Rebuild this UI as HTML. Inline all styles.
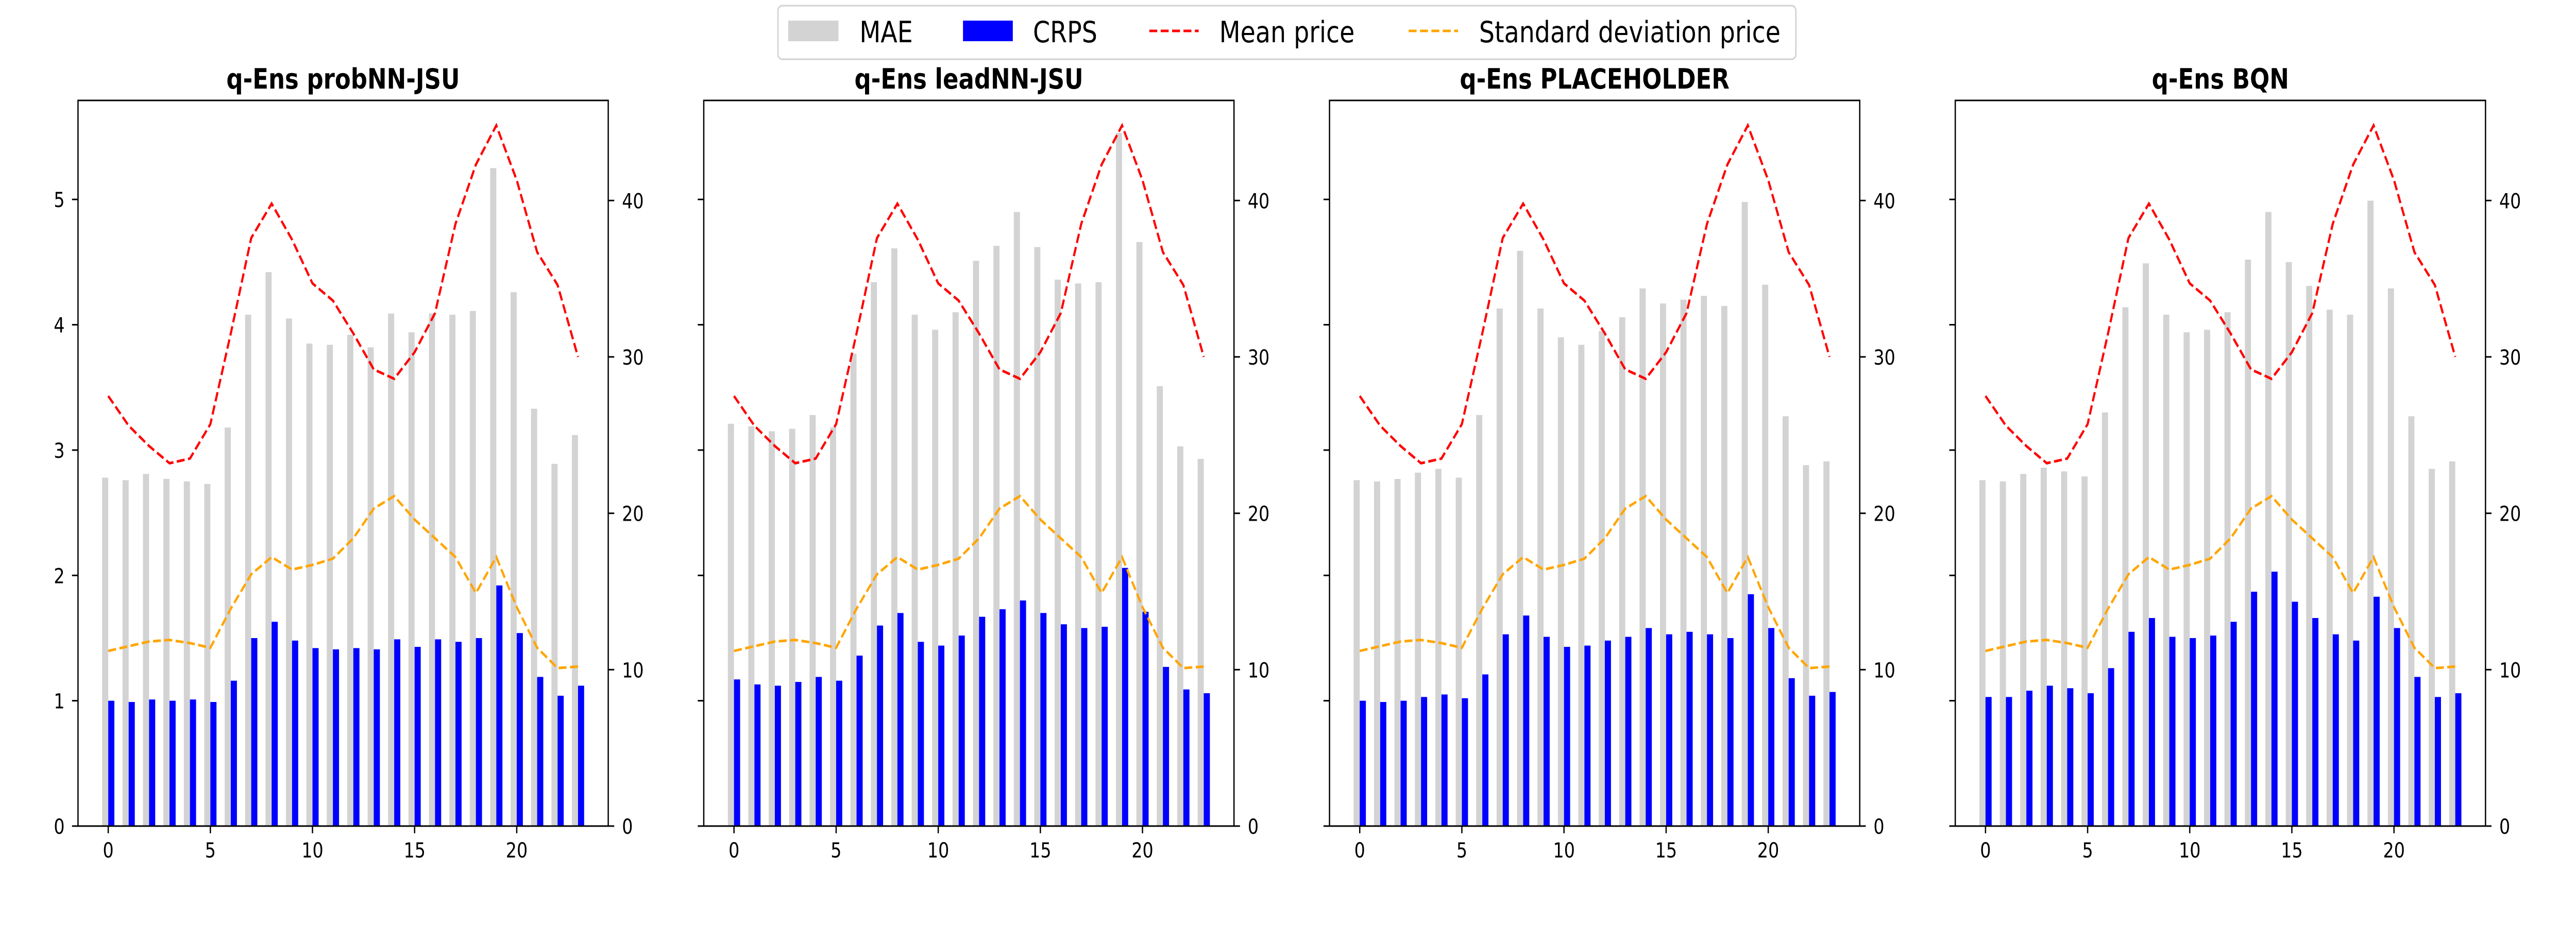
<!DOCTYPE html>
<html><head><meta charset="utf-8">
<style>
html,body{margin:0;padding:0;background:#fff;overflow:hidden;width:100%;height:100%;}
svg{display:block;width:100vw;height:100vh;font-family:"DejaVu Sans","Liberation Sans",sans-serif;}
</style></head>
<body>
<svg id="chart" viewBox="0 0 6000 1800" preserveAspectRatio="none" xmlns="http://www.w3.org/2000/svg">
<g>
<rect x="1812" y="11" width="2371" height="104" rx="10" fill="#fff" fill-opacity="0.8" stroke="#d0d0d0" stroke-width="3"/>
<rect x="1836" y="40" width="117" height="40" fill="#d3d3d3"/>
<text x="2002" y="82" font-size="57">MAE</text>
<rect x="2243" y="40" width="116" height="40" fill="#0000ff"/>
<text x="2406" y="82" font-size="57">CRPS</text>
<line x1="2677" y1="60" x2="2792" y2="60" stroke="#ff0000" stroke-width="5" stroke-dasharray="18.5 8"/>
<text x="2840" y="82" font-size="57">Mean price</text>
<line x1="3281" y1="60" x2="3396" y2="60" stroke="#ffa500" stroke-width="5" stroke-dasharray="18.5 8"/>
<text x="3445" y="82" font-size="57">Standard deviation price</text>
</g>
</svg>
<script>
const hours = [0,1,2,3,4,5,6,7,8,9,10,11,12,13,14,15,16,17,18,19,20,21,22,23];
const panelTitles = ["q-Ens probNN-JSU","q-Ens leadNN-JSU","q-Ens PLACEHOLDER","q-Ens BQN"];
const meanPrice = [27.5,25.6,24.3,23.2,23.5,25.7,31.5,37.6,39.8,37.5,34.7,33.6,31.5,29.2,28.6,30.3,32.8,38.5,42.3,44.8,41.3,36.7,34.6,30.0];
const stdPrice = [11.2,11.5,11.8,11.9,11.7,11.4,13.9,16.1,17.2,16.4,16.7,17.1,18.4,20.3,21.1,19.6,18.4,17.2,14.9,17.2,14.0,11.4,10.1,10.2];
const maeP1 = [2.78,2.76,2.81,2.77,2.75,2.73,3.18,4.08,4.42,4.05,3.85,3.84,3.92,3.82,4.09,3.94,4.09,4.08,4.11,5.25,4.26,3.33,2.89,3.12];
const crpsP1 = [1.00,0.99,1.01,1.00,1.01,0.99,1.16,1.50,1.63,1.48,1.42,1.41,1.42,1.41,1.49,1.43,1.49,1.47,1.50,1.92,1.54,1.19,1.04,1.12];
const maeP2 = [3.21,3.19,3.15,3.17,3.28,3.18,3.77,4.34,4.61,4.08,3.96,4.10,4.51,4.63,4.90,4.62,4.36,4.33,4.34,5.53,4.66,3.51,3.03,2.93];
const crpsP2 = [1.17,1.13,1.12,1.15,1.19,1.16,1.36,1.60,1.70,1.47,1.44,1.52,1.67,1.73,1.80,1.70,1.61,1.58,1.59,2.06,1.71,1.27,1.09,1.06];
const maeP3 = [2.76,2.75,2.77,2.82,2.85,2.78,3.28,4.13,4.59,4.13,3.90,3.84,3.95,4.06,4.29,4.17,4.20,4.23,4.15,4.98,4.32,3.27,2.88,2.91];
const crpsP3 = [1.00,0.99,1.00,1.03,1.05,1.02,1.21,1.53,1.68,1.51,1.43,1.44,1.48,1.51,1.58,1.53,1.55,1.53,1.50,1.85,1.58,1.18,1.04,1.07];
const maeP4 = [2.76,2.75,2.81,2.86,2.83,2.79,3.30,4.14,4.49,4.08,3.94,3.96,4.10,4.52,4.90,4.50,4.31,4.12,4.08,4.99,4.29,3.27,2.85,2.91];
const crpsP4 = [1.03,1.03,1.08,1.12,1.10,1.06,1.26,1.55,1.66,1.51,1.50,1.52,1.63,1.87,2.03,1.79,1.66,1.53,1.48,1.83,1.58,1.19,1.03,1.06];
const leftTicks = [0,1,2,3,4,5];
const rightTicks = [0,10,20,30,40];
const xTicks = [0,5,10,15,20];
const maeSets = [maeP1,maeP2,maeP3,maeP4];
const crpsSets = [crpsP1,crpsP2,crpsP3,crpsP4];

const NS = "http://www.w3.org/2000/svg";
const svg = document.getElementById('chart');
function mk(tag, attrs, parent){
  const e = document.createElementNS(NS, tag);
  for (const k in attrs) e.setAttribute(k, attrs[k]);
  (parent||svg).appendChild(e);
  return e;
}
const TOP=195, BOT=1604, W=1235, X0=-1.48, X1=24.48, YL=5.79, YR=46.4, BW=0.3;
panelTitles.forEach((title, p) => {
  const L = 181.7 + p*1457.5, R = L + W;
  const g = mk('g', {});
  
  
  const sx = v => L + (v - X0) / (X1 - X0) * W;
  const syL = v => BOT - v / YL * (BOT - TOP);
  const syR = v => BOT - v / YR * (BOT - TOP);
  hours.forEach((h, i) => {
    const r1 = mk('rect', {x: sx(h-BW), y: syL(maeSets[p][i]), width: sx(h)-sx(h-BW), height: BOT - syL(maeSets[p][i]), fill:'#d3d3d3'}, g);
    
    
    const r2 = mk('rect', {x: sx(h), y: syL(crpsSets[p][i]), width: sx(h+BW)-sx(h), height: BOT - syL(crpsSets[p][i]), fill:'#0000ff'}, g);
    
    
  });
  const mp = mk('polyline', {points: hours.map((h,i)=>sx(h)+','+syR(meanPrice[i])).join(' '), fill:'none', stroke:'#ff0000', 'stroke-width':5, 'stroke-dasharray':'18.5 8'}, g);
  
  
  const sp = mk('polyline', {points: hours.map((h,i)=>sx(h)+','+syR(stdPrice[i])).join(' '), fill:'none', stroke:'#ffa500', 'stroke-width':5, 'stroke-dasharray':'18.5 8'}, g);
  
  
  const fr = mk('rect', {x:L, y:TOP, width:W, height:BOT-TOP, fill:'none', stroke:'#000', 'stroke-width':3}, g);
  
  
  const t = mk('text', {x:(L+R)/2, y:172, 'font-size':54, 'font-weight':'bold', 'text-anchor':'middle'}, g);
  t.textContent = title;
  
  
  xTicks.forEach(v => {
    const tk = mk('line', {x1:sx(v), x2:sx(v), y1:BOT, y2:BOT+14, stroke:'#000', 'stroke-width':3}, g);
    
    
    const tl = mk('text', {x:sx(v), y:1665, 'font-size':40, 'text-anchor':'middle'}, g);
    tl.textContent = v;
    
    
  });
  leftTicks.forEach(v => {
    const tk = mk('line', {x1:L-14, x2:L, y1:syL(v), y2:syL(v), stroke:'#000', 'stroke-width':3}, g);
    
    
    if (p === 0) {
      const tl = mk('text', {x:L-31, y:syL(v)+15, 'font-size':40, 'text-anchor':'end'}, g);
      tl.textContent = v;
      
      
    }
  });
  rightTicks.forEach(v => {
    const tk = mk('line', {x1:R, x2:R+14, y1:syR(v), y2:syR(v), stroke:'#000', 'stroke-width':3}, g);
    
    
    const tl = mk('text', {x:R+32, y:syR(v)+15, 'font-size':40, 'text-anchor':'start'}, g);
    tl.textContent = v;
    
    
  });
});
</script>
</body></html>
